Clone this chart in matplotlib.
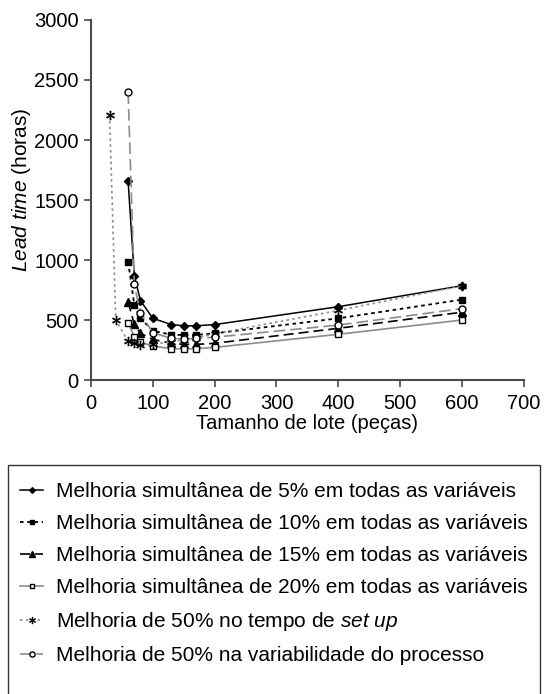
import matplotlib
matplotlib.use("Agg")
import matplotlib.pyplot as plt
from matplotlib.patches import Rectangle

plt.rcParams['font.family'] = ['Liberation Sans', 'DejaVu Sans']
plt.rcParams['mathtext.fontset'] = 'custom'
plt.rcParams['mathtext.rm'] = 'Liberation Sans'
plt.rcParams['mathtext.it'] = 'Liberation Sans:italic'

# lote sizes
x_main = [60, 70, 80, 100, 130, 150, 170, 200, 400, 600]
x_setup = [30, 40, 60, 70, 80, 100, 130, 150, 170, 200, 400, 600]

lt_5 = [1658, 868, 662, 514, 462, 452, 452, 462, 611, 786]
lt_10 = [986, 628, 514, 410, 378, 375, 376, 389, 514, 670]
lt_15 = [653, 464, 389, 339, 306, 297, 297, 306, 431, 565]
lt_20 = [478, 361, 314, 283, 261, 259, 261, 272, 381, 500]
lt_setup = [2208, 500, 322, 305, 295, 300, 318, 335, 352, 385, 580, 785]
lt_var = [2397, 800, 556, 394, 347, 342, 347, 357, 458, 595]

labels = [
    'Melhoria simultânea de 5% em todas as variáveis',
    'Melhoria simultânea de 10% em todas as variáveis',
    'Melhoria simultânea de 15% em todas as variáveis',
    'Melhoria simultânea de 20% em todas as variáveis',
    r'Melhoria de 50% no tempo de $\it{set\ up}$',
    'Melhoria de 50% na variabilidade do processo',
]

fig = plt.figure(figsize=(5.45, 6.94), dpi=100)
ax = fig.add_axes([0.167, 0.4524, 0.794, 0.5188])

gray = '#8c8c8c'
l1, = ax.plot(x_main, lt_5, color='black', lw=1.1, ls='-', marker='D', ms=3.8,
              mfc='black', mec='black')
l2, = ax.plot(x_main, lt_10, color='black', lw=1.3, ls=(0, (2, 2)), marker='s', ms=4.5,
              mfc='black', mec='black')
l3, = ax.plot(x_main, lt_15, color='black', lw=1.2, ls=(0, (6, 3)), marker='^', ms=5.5,
              mfc='black', mec='black')
l4, = ax.plot(x_main, lt_20, color=gray, lw=1.2, ls='-', marker='s', ms=4.5,
              mfc='white', mec='black', mew=1.0)
l5, = ax.plot(x_setup, lt_setup, color=gray, lw=1.2, ls=(0, (1.5, 2)), marker='$\\ast$', ms=6.5,
              mfc='black', mec='black', mew=0.5)
l6, = ax.plot(x_main, lt_var, color=gray, lw=1.2, ls=(0, (7, 3)), marker='o', ms=5,
              mfc='white', mec='black', mew=1.0)

ax.set_xlim(0, 700)
ax.set_ylim(0, 3000)
ax.set_xticks(range(0, 701, 100))
ax.set_yticks(range(0, 3001, 500))
for s in ['top', 'right']:
    ax.spines[s].set_visible(False)
for s in ['left', 'bottom']:
    ax.spines[s].set_color('#4a4a4a')
    ax.spines[s].set_linewidth(1.5)
ax.tick_params(direction='out', length=5, width=1.2, color='#4a4a4a',
               labelsize=14.5)
ax.tick_params(axis='x', pad=5)
ax.tick_params(axis='y', pad=4)
ax.set_xlabel('Tamanho de lote (peças)', fontsize=14.5, labelpad=1)
ax.set_ylabel(r'$\it{Lead\ time}$ (horas)', fontsize=15)
ax.yaxis.set_label_coords(-0.135, 0.528)

# legend box, runs off the bottom edge
fig.add_artist(Rectangle((8 / 545, -0.05), 532 / 545, 0.05 + (694 - 465) / 694,
                         transform=fig.transFigure, fill=False,
                         edgecolor='#333333', lw=1.0))
fig.legend([l1, l2, l3, l4, l5, l6], labels, loc='upper left',
           bbox_to_anchor=(12 / 545, (694 - 474) / 694), frameon=False,
           fontsize=15, handlelength=1.1, handletextpad=0.6, labelspacing=0.62,
           markerscale=0.75, borderaxespad=0)

fig.savefig('out.png', dpi=100)
